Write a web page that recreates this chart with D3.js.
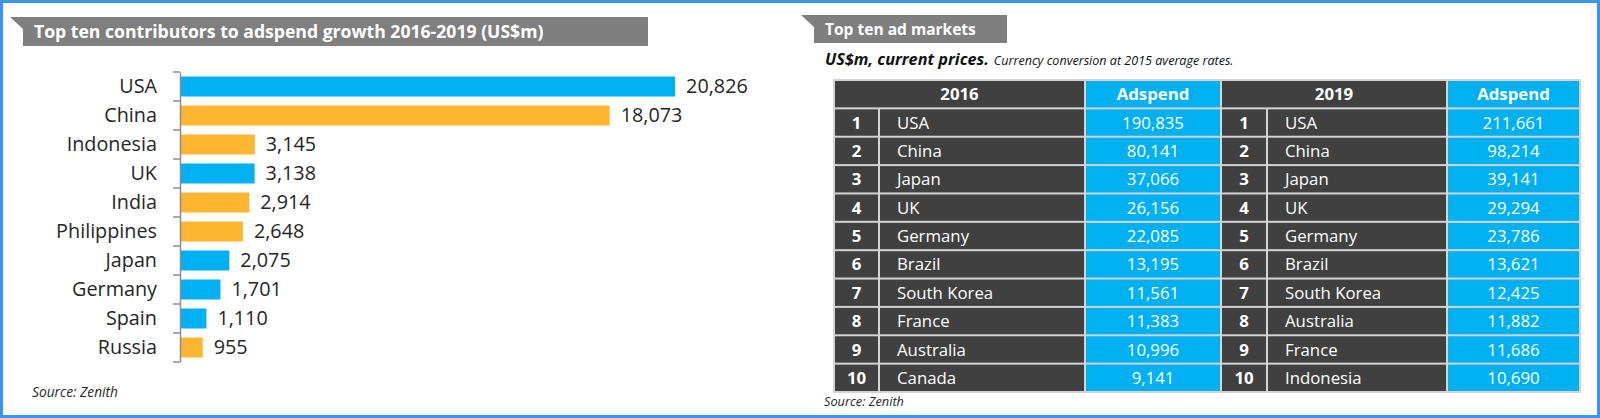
<!DOCTYPE html>
<html>
<head>
<meta charset="utf-8">
<script src="https://cdn.jsdelivr.net/npm/d3@7"></script>
<style>
  body { margin: 0; background: #fff; }
  svg { display: block; font-family: "Open Sans", sans-serif; }
</style>
</head>
<body>
<div id="chart"></div>
<script>
// Set svg height and width
var svgWidth = 1600;
var svgHeight = 418;

// Left chart data: top ten contributors to adspend growth 2016-2019 (US$m)
var growthCountries = ["USA", "China", "Indonesia", "UK", "India", "Philippines", "Japan", "Germany", "Spain", "Russia"];
var growthValues = [20826, 18073, 3145, 3138, 2914, 2648, 2075, 1701, 1110, 955];
var growthGroups = ["mature", "emerging", "emerging", "mature", "emerging", "emerging", "mature", "mature", "mature", "emerging"];

// Right table data: top ten ad markets
var ranks = [1, 2, 3, 4, 5, 6, 7, 8, 9, 10];
var markets2016 = ["USA", "China", "Japan", "UK", "Germany", "Brazil", "South Korea", "France", "Australia", "Canada"];
var adspend2016 = [190835, 80141, 37066, 26156, 22085, 13195, 11561, 11383, 10996, 9141];
var markets2019 = ["USA", "China", "Japan", "UK", "Germany", "Brazil", "South Korea", "Australia", "France", "Indonesia"];
var adspend2019 = [211661, 98214, 39141, 29294, 23786, 13621, 12425, 11882, 11686, 10690];
var tableHeaders = ["2016", "Adspend", "2019", "Adspend"];

var fmt = d3.format(",");

var svg = d3.select("#chart")
    .append("svg")
    .attr("width", svgWidth)
    .attr("height", svgHeight);

// scale a text's font size so that it fills a given width
function fitWidth(sel, target) {
    var len = sel.node().getComputedTextLength();
    var size = parseFloat(sel.attr("font-size"));
    sel.attr("font-size", size * target / len);
}

// Outer blue frame
svg.append("rect")
    .attr("x", 1.5).attr("y", 1.5)
    .attr("width", svgWidth - 3).attr("height", svgHeight - 3)
    .attr("fill", "none")
    .attr("stroke", "#3d94ec")
    .attr("stroke-width", 3);

// Grey ribbon title
function banner(x0, x1, y0, y1, label, textWidth) {
    var g = svg.append("g");
    g.append("polygon")
        .attr("points", [[x0, y0], [x1, y0], [x1, y1], [x0 + 13, y1], [x0 + 13, y0 + 12]].join(" "))
        .attr("fill", "#7f7f7f");
    var t = g.append("text")
        .attr("x", x0 + 24)
        .attr("y", (y0 + y1) / 2)
        .attr("dy", "0.36em")
        .attr("fill", "#fff")
        .attr("font-weight", "bold")
        .attr("font-size", 17)
        .text(label);
    fitWidth(t, textWidth);
}

banner(10, 648, 17, 46, "Top ten contributors to adspend growth 2016-2019 (US$m)", 510);
banner(801, 1007, 15, 43, "Top ten ad markets", 151);

// ---------- Left: horizontal bar chart ----------
var xScale = d3.scaleLinear()
    .domain([0, 22000])
    .range([180, 703]);

var yScale = d3.scaleBand()
    .domain(growthCountries)
    .range([72, 362])
    .paddingInner(0.31)
    .paddingOuter(0.155);

var color = d3.scaleOrdinal()
    .domain(["mature", "emerging"])
    .range(["#00b0f0", "#fdb632"]);

var bars = growthCountries.map(function (c, i) {
    return { country: c, value: growthValues[i], group: growthGroups[i] };
});

svg.append("g")
    .selectAll("rect")
    .data(bars)
    .enter()
    .append("rect")
    .attr("x", xScale(0))
    .attr("y", d => yScale(d.country))
    .attr("width", d => xScale(d.value) - xScale(0))
    .attr("height", yScale.bandwidth())
    .attr("fill", d => color(d.group));

// value labels
svg.append("g")
    .selectAll("text")
    .data(bars)
    .enter()
    .append("text")
    .attr("x", d => xScale(d.value) + 11)
    .attr("y", d => yScale(d.country) + yScale.bandwidth() / 2)
    .attr("dy", "0.35em")
    .attr("font-size", 19.8)
    .attr("fill", "#262626")
    .text(d => fmt(d.value));

// category axis
var leftAxis = d3.axisLeft(yScale).tickSize(0).tickPadding(23);
var axisG = svg.append("g")
    .attr("transform", `translate(${xScale(0)},0)`)
    .call(leftAxis);
axisG.select(".domain").attr("stroke", "#8c8c8c").attr("stroke-width", 1.5);
axisG.selectAll("text")
    .attr("font-size", 19.8)
    .attr("fill", "#262626")
    .style("font-family", "'Open Sans', sans-serif");

// tick marks between categories (Excel style)
var boundaries = growthCountries.map(c => yScale(c) - yScale.step() * yScale.paddingOuter())
    .concat([yScale.range()[1]]);
axisG.selectAll("line.bound")
    .data(boundaries)
    .enter()
    .append("line")
    .attr("class", "bound")
    .attr("x1", -7).attr("x2", 0)
    .attr("y1", d => d).attr("y2", d => d)
    .attr("stroke", "#8c8c8c")
    .attr("stroke-width", 1.5);

var src1 = svg.append("text")
    .attr("x", 32).attr("y", 397)
    .attr("font-size", 13)
    .attr("font-style", "italic")
    .attr("fill", "#262626")
    .text("Source: Zenith");
fitWidth(src1, 86);

// ---------- Right: table ----------
var sub = svg.append("text")
    .attr("x", 825).attr("y", 65)
    .attr("fill", "#111");
var subA = sub.append("tspan")
    .attr("font-size", 16)
    .attr("font-weight", "bold")
    .attr("font-style", "italic")
    .text("US$m, current prices.");
var subB = sub.append("tspan")
    .attr("dx", 5)
    .attr("font-size", 12)
    .attr("font-style", "italic")
    .text("Currency conversion at 2015 average rates.");
fitWidth(subA, 164);
fitWidth(subB, 240);

// column edges of the table grid
var colEdges = [834, 879, 1085, 1221, 1267, 1447, 1580];
var rowScale = d3.scaleBand()
    .domain(d3.range(11))
    .range([80, 392]);

var dark = "#404040";
var blue = "#00b0f0";

var cells = [
    { row: 0, c0: 0, c1: 2, text: tableHeaders[0], fill: dark, bold: true, align: "middle" },
    { row: 0, c0: 2, c1: 3, text: tableHeaders[1], fill: blue, bold: true, align: "middle" },
    { row: 0, c0: 3, c1: 5, text: tableHeaders[2], fill: dark, bold: true, align: "middle" },
    { row: 0, c0: 5, c1: 6, text: tableHeaders[3], fill: blue, bold: true, align: "middle" }
];
ranks.forEach(function (r, i) {
    cells.push({ row: i + 1, c0: 0, c1: 1, text: r, fill: dark, bold: true, align: "middle" });
    cells.push({ row: i + 1, c0: 1, c1: 2, text: markets2016[i], fill: dark, bold: false, align: "start" });
    cells.push({ row: i + 1, c0: 2, c1: 3, text: fmt(adspend2016[i]), fill: blue, bold: false, align: "middle" });
    cells.push({ row: i + 1, c0: 3, c1: 4, text: r, fill: dark, bold: true, align: "middle" });
    cells.push({ row: i + 1, c0: 4, c1: 5, text: markets2019[i], fill: dark, bold: false, align: "start" });
    cells.push({ row: i + 1, c0: 5, c1: 6, text: fmt(adspend2019[i]), fill: blue, bold: false, align: "middle" });
});

var table = svg.append("g");
table.append("rect")
    .attr("x", colEdges[0] - 1).attr("y", rowScale.range()[0] - 1)
    .attr("width", colEdges[6] - colEdges[0] + 2)
    .attr("height", rowScale.range()[1] - rowScale.range()[0] + 2)
    .attr("fill", "#d4d4d4");

var cellG = table.selectAll("g.cell")
    .data(cells)
    .enter()
    .append("g")
    .attr("class", "cell");

cellG.append("rect")
    .attr("x", d => colEdges[d.c0] + 1)
    .attr("y", d => rowScale(d.row) + 1)
    .attr("width", d => colEdges[d.c1] - colEdges[d.c0] - 2)
    .attr("height", rowScale.bandwidth() - 2)
    .attr("fill", d => d.fill);

cellG.append("text")
    .attr("x", d => d.align === "middle" ? (colEdges[d.c0] + colEdges[d.c1]) / 2 : colEdges[d.c0] + 18)
    .attr("y", d => rowScale(d.row) + rowScale.bandwidth() / 2)
    .attr("dy", "0.36em")
    .attr("text-anchor", d => d.align)
    .attr("font-size", 16.8)
    .attr("font-weight", d => d.bold ? "bold" : "normal")
    .attr("fill", "#fff")
    .text(d => d.text);

var src2 = svg.append("text")
    .attr("x", 824).attr("y", 406)
    .attr("font-size", 12)
    .attr("font-style", "italic")
    .attr("fill", "#262626")
    .text("Source: Zenith");
fitWidth(src2, 80);
</script>
</body>
</html>
